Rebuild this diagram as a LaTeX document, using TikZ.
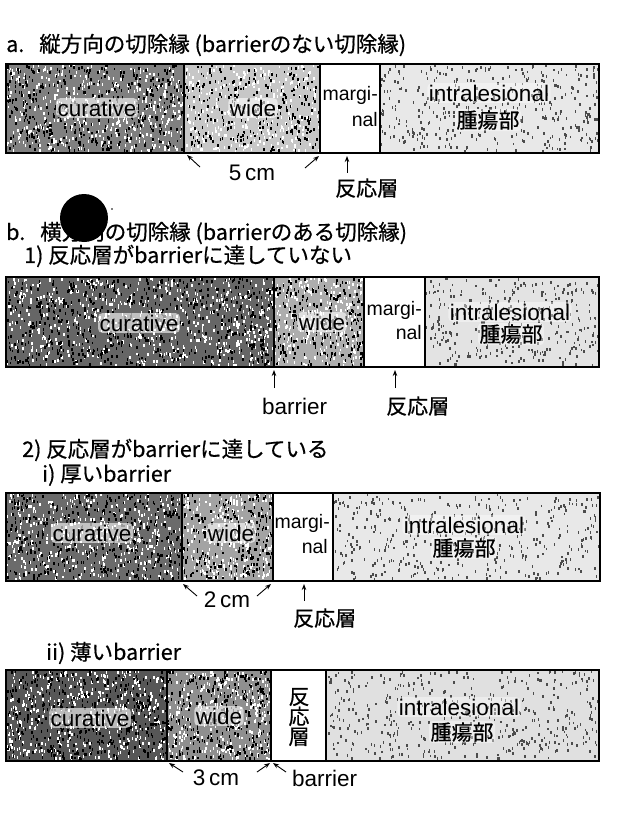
\documentclass[tikz,border=0pt]{standalone}
\usepackage{fontspec}
\setmainfont{Liberation Sans}
\newfontfamily\jp[FakeBold=0.6]{Noto Sans CJK JP}
\usetikzlibrary{arrows.meta}
\tikzset{
  lab/.style={font=\fontsize{22.5}{24}\selectfont, inner sep=0pt},
  onbar/.style={fill=white, fill opacity=0.6, text opacity=1, inner sep=1.5pt, rounded corners=4pt},
  onlight/.style={fill=white, fill opacity=0.4, text opacity=1, inner sep=1.5pt, rounded corners=4pt},
  marg/.style={font=\fontsize{19.5}{24}\selectfont, inner sep=0pt, anchor=east},
  jlab/.style={font=\jp\fontsize{21}{22}\selectfont, inner sep=0pt},
  head/.style={font=\jp\fontsize{21.5}{24}\selectfont, inner sep=0pt, anchor=west},
  barline/.style={line width=1.3pt},
  divline/.style={line width=1.1pt},
  ptr/.style={line width=0.9pt, -{Stealth[length=6pt,width=4.5pt]}},
}
% random speckle texture: x1 y1 x2 y2 count colour
\newcommand\speckle[6]{%
  \foreach \k in {1,...,#5}{%
    \pgfmathsetmacro\spx{#1+rnd*(#3-#1-1.6)}%
    \pgfmathsetmacro\spy{#2+rnd*(#4-#2-3)}%
    \fill[#6] (\spx,\spy) rectangle ++(1.5,2.8);
  }}
\begin{document}
\begin{tikzpicture}[x=1pt,y=-1pt]
\useasboundingbox (0,0) rectangle (623,813);
\pgfmathsetseed{4711}

% ---------- headings ----------
\node[head] (ta) at (6,45) {a.\hspace{0.7em}縦方向の切除縁 (barrierのない切除縁)};
\node[head] (tb) at (6,233) {b.\hspace{0.7em}横方向の切除縁 (barrierのある切除縁)};
\node[head] (t1) at (24,256) {1) 反応層がbarrierに達していない};
\node[head] (t2) at (22,450) {2) 反応層がbarrierに達している};
\node[head] (t2i) at (42,475) {i) 厚いbarrier};
\node[head] (t2ii) at (46,653) {ii) 薄いbarrier};

% ---------- bar 1 ----------
\fill[black!50] (6,64) rectangle (184,153);
\speckle{6}{64}{184}{153}{450}{white}
\speckle{6}{64}{184}{153}{450}{black}
\fill[black!22] (184,64) rectangle (320,153);
\speckle{184}{64}{320}{153}{300}{white}
\speckle{184}{64}{320}{153}{300}{black}
\fill[white] (320,64) rectangle (380,153);
\fill[black!9] (380,64) rectangle (599,153);
\speckle{380}{64}{599}{153}{380}{black!70}
\draw[barline] (6,64) rectangle (599,153);
\draw[divline] (184,64) -- (184,153) (320,64) -- (320,153) (380,64) -- (380,153);
\node[lab, onbar] (c1) at (97,108) {curative};
\node[lab, onbar] (w1) at (253,108) {wide};
\node[marg] (m1a) at (378,95) {margi-};
\node[marg] (m1b) at (378,120) {nal};
\node[lab, onlight] (i1a) at (489,93) {intralesional};
\node[jlab, onlight] (i1b) at (488,120) {腫瘍部};
\coordinate (a1l) at (187,155); \coordinate (a1lt) at (200,167);
\coordinate (a1r) at (319,156); \coordinate (a1rt) at (305,168);
\coordinate (a1u) at (347,156); \coordinate (a1ut) at (347,173);
\draw[ptr] (a1lt) -- (a1l);
\draw[ptr] (a1rt) -- (a1r);
\draw[ptr] (a1ut) -- (a1u);
\node[lab] (d1) at (252,173) {5\,cm};
\node[jlab, anchor=west] (r1) at (335,188) {反応層};

% ---------- blot ----------
\fill (84,218) circle (24);
\fill (112,209) circle (0.9);

% ---------- bar 2 ----------
\fill[black!60] (6,277) rectangle (274,367);
\speckle{6}{277}{274}{367}{650}{white}
\speckle{6}{277}{274}{367}{650}{black}
\fill[black!32] (274,277) rectangle (364,367);
\speckle{274}{277}{364}{367}{250}{white}
\speckle{274}{277}{364}{367}{250}{black}
\fill[white] (364,277) rectangle (425,367);
\fill[black!11] (425,277) rectangle (599,367);
\speckle{425}{277}{599}{367}{330}{black!70}
\draw[barline] (6,277) rectangle (599,367);
\draw[divline] (274,277) -- (274,367) (364,277) -- (364,367) (425,277) -- (425,367);
\node[lab, onbar] (c2) at (139,323) {curative};
\node[lab, onbar] (w2) at (322,322) {wide};
\node[marg] (m2a) at (422,310) {margi-};
\node[marg] (m2b) at (422,333) {nal};
\node[lab, onlight] (i2a) at (510,312) {intralesional};
\node[jlab, onlight] (i2b) at (511,334) {腫瘍部};
\coordinate (a2b) at (274,370); \coordinate (a2bt) at (274,388);
\coordinate (a2r) at (395,370); \coordinate (a2rt) at (395,388);
\draw[ptr] (a2bt) -- (a2b);
\draw[ptr] (a2rt) -- (a2r);
\node[lab, anchor=west] (bl2) at (262,406) {barrier};
\node[jlab, anchor=west] (r2) at (386,406) {反応層};

% ---------- bar 3 ----------
\fill[black!58] (6,493) rectangle (182,581);
\speckle{6}{493}{182}{581}{450}{white}
\speckle{6}{493}{182}{581}{450}{black}
\fill[black!36] (182,493) rectangle (273,581);
\speckle{182}{493}{273}{581}{250}{white}
\speckle{182}{493}{273}{581}{250}{black}
\fill[white] (273,493) rectangle (333,581);
\fill[black!9] (333,493) rectangle (600,581);
\speckle{333}{493}{600}{581}{420}{black!70}
\draw[barline] (6,493) rectangle (600,581);
\draw[divline] (182,493) -- (182,581) (273,493) -- (273,581) (333,493) -- (333,581);
\node[lab, onbar] (c3) at (92,533) {curative};
\node[lab, onbar] (w3) at (231,533) {wide};
\node[marg] (m3a) at (330,523) {margi-};
\node[marg] (m3b) at (328,547) {nal};
\node[lab, onlight] (i3a) at (464,525) {intralesional};
\node[jlab, onlight] (i3b) at (464,548) {腫瘍部};
\coordinate (a3l) at (183,584); \coordinate (a3lt) at (197,596);
\coordinate (a3r) at (271,584); \coordinate (a3rt) at (257,596);
\coordinate (a3u) at (304,584); \coordinate (a3ut) at (304,601);
\draw[ptr] (a3lt) -- (a3l);
\draw[ptr] (a3rt) -- (a3r);
\draw[ptr] (a3ut) -- (a3u);
\node[lab] (d3) at (227,600) {2\,cm};
\node[jlab, anchor=west] (r3) at (293,618) {反応層};

% ---------- bar 4 ----------
\fill[black!66] (6,670) rectangle (167,761);
\speckle{6}{670}{167}{761}{450}{white}
\speckle{6}{670}{167}{761}{450}{black}
\fill[black!44] (167,670) rectangle (271,761);
\speckle{167}{670}{271}{761}{330}{white}
\speckle{167}{670}{271}{761}{330}{black}
\fill[white] (271,670) rectangle (326,761);
\fill[black!12] (326,670) rectangle (599,761);
\speckle{326}{670}{599}{761}{450}{black!70}
\draw[barline] (6,670) rectangle (599,761);
\draw[divline] (167,670) -- (167,761) (271,670) -- (271,761) (326,670) -- (326,761);
\node[lab, onbar] (c4) at (90,718) {curative};
\node[lab, onbar] (w4) at (219,716) {wide};
\node[jlab, align=center, font=\jp\fontsize{21}{20}\selectfont] (r4) at (299,717) {反\\応\\層};
\node[lab, onlight] (i4a) at (459,707) {intralesional};
\node[jlab, onlight] (i4b) at (462,732) {腫瘍部};
\coordinate (a4l) at (169,763); \coordinate (a4lt) at (183,772);
\coordinate (a4r) at (270,763); \coordinate (a4rt) at (257,772);
\coordinate (a4b) at (273,763); \coordinate (a4bt) at (286,772);
\draw[ptr] (a4lt) -- (a4l);
\draw[ptr] (a4rt) -- (a4r);
\draw[ptr] (a4bt) -- (a4b);
\node[lab] (d4) at (216,778) {3\,cm};
\node[lab, anchor=west] (bl4) at (292,778) {barrier};
\end{tikzpicture}
\end{document}
